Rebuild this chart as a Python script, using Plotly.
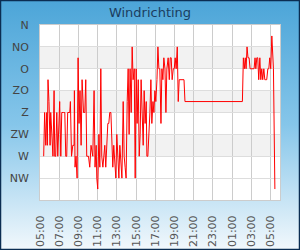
import base64
import pandas as pd
import plotly.graph_objects as go

# ---- data ----
start = "2024-01-01 05:00"
minutes_after_start = [
    23, 29, 36, 42, 46, 50, 56, 63, 67, 73, 81, 88, 92, 98, 105, 111, 117, 123, 130, 136,
    148, 155, 161, 167, 173, 186, 190, 197, 205, 213, 215, 219, 225, 232, 238, 244, 250, 257, 263, 272,
    280, 286, 292, 303, 311, 319, 330, 338, 344, 351, 355, 361, 368, 374, 380, 386, 393, 399, 405, 411,
    418, 424, 430, 436, 443, 449, 455, 461, 468, 474, 480, 486, 493, 499, 505, 512, 520, 526, 532, 538,
    545, 551, 557, 563, 570, 576, 582, 589, 595, 601, 607, 614, 620, 626, 632, 639, 645, 651, 657, 664,
    668, 674, 681, 687, 693, 699, 706, 712, 718, 724, 731, 737, 743, 749, 756, 762, 768, 774, 781, 787,
    793, 801, 808, 814, 820, 826, 833, 839, 845, 851, 858, 864, 870, 900, 906, 1265, 1271, 1277, 1283, 1288,
    1294, 1300, 1307, 1313, 1338, 1344, 1349, 1355, 1361, 1367, 1374, 1380, 1386, 1392, 1399, 1405, 1411, 1417, 1424, 1430,
    1436, 1442, 1449, 1455, 1459, 1468,
]
direction_deg = [
    270, 180, 247.5, 180, 247.5, 112.5, 157.5, 247.5, 180, 225, 270, 135, 270, 270, 180, 270, 180, 157.5, 270, 180,
    180, 180, 270, 270, 180, 180, 157.5, 270, 247.5, 247.5, 135, 292.5, 270, 315, 67.5, 202.5, 135, 247.5, 112.5, 180,
    180, 112.5, 270, 270, 292.5, 247.5, 270, 135, 292.5, 247.5, 315, 337.5, 225, 292.5, 90, 270, 292.5, 270, 247.5, 292.5,
    247.5, 202.5, 202.5, 180, 180, 225, 292.5, 247.5, 292.5, 315, 225, 270, 315, 247.5, 292.5, 315, 157.5, 270, 292.5, 315,
    157.5, 90, 225, 90, 180, 45, 112.5, 90, 315, 90, 202.5, 112.5, 270, 225, 112.5, 180, 247.5, 135, 202.5, 157.5,
    270, 270, 225, 180, 112.5, 202.5, 157.5, 180, 135, 157.5, 112.5, 45, 90, 90, 202.5, 90, 112.5, 67.5, 90, 180,
    90, 67.5, 112.5, 67.5, 67.5, 112.5, 90, 90, 67.5, 90, 45, 157.5, 112.5, 112.5, 157.5, 157.5, 67.5, 90, 67.5, 90,
    45, 67.5, 67.5, 90, 90, 67.5, 90, 67.5, 67.5, 112.5, 67.5, 112.5, 90, 112.5, 90, 112.5, 112.5, 112.5, 90, 90,
    67.5, 90, 22.5, 67.5, 90, 337.5,
]
tick_times = ["2024-01-01 05:00", "2024-01-01 07:00", "2024-01-01 09:00", "2024-01-01 11:00",
              "2024-01-01 13:00", "2024-01-01 15:00", "2024-01-01 17:00", "2024-01-01 19:00",
              "2024-01-01 21:00", "2024-01-01 23:00", "2024-01-02 01:00", "2024-01-02 03:00",
              "2024-01-02 05:00"]
y_tick_vals = [0, 45, 90, 135, 180, 225, 270, 315]
y_tick_text = ["N", "NO", "O", "ZO", "Z", "ZW", "W", "NW"]
band_ranges = [(45, 90), (135, 180), (225, 270)]
x_range = ["2024-01-01 05:00", "2024-01-02 06:00"]

times = pd.Timestamp(start) + pd.to_timedelta(minutes_after_start, unit="min")

W, H = 300, 250
L, R, T, B = 40, 20, 25, 50
pw, ph = W - L - R, H - T - B

svg = f'''<svg xmlns="http://www.w3.org/2000/svg" width="{W}" height="{H}" viewBox="0 0 {W} {H}" preserveAspectRatio="none">
<defs><linearGradient id="g" x1="0" y1="0" x2="0" y2="1">
<stop offset="0" stop-color="#4ca5d8"/>
<stop offset="0.5" stop-color="#86c6ea"/>
<stop offset="1" stop-color="#f2f8fc"/>
</linearGradient></defs>
<rect x="0" y="0" width="{W}" height="{H}" fill="url(#g)"/>
<rect x="0.5" y="0.5" width="{W-1}" height="{H-1}" fill="none" stroke="#0b2d52" stroke-width="1.5"/>
</svg>'''
src = "data:image/svg+xml;base64," + base64.b64encode(svg.encode()).decode()

fig = go.Figure()
fig.add_trace(go.Scatter(x=times, y=direction_deg, mode="lines",
                         line=dict(color="#ff0000", width=1), hoverinfo="skip"))

shapes = [dict(type="rect", xref="paper", yref="paper", x0=0, x1=1, y0=0, y1=1,
               fillcolor="#ffffff", line=dict(width=0), layer="below")]
for a, b in band_ranges:
    shapes.append(dict(type="rect", xref="paper", yref="y", x0=0, x1=1, y0=a, y1=b,
                       fillcolor="#f2f2f2", line=dict(width=0), layer="below"))

fig.update_layout(
    width=W, height=H,
    margin=dict(l=L, r=R, t=T, b=B, pad=0),
    paper_bgcolor="#8ccaea",
    plot_bgcolor="rgba(0,0,0,0)",
    showlegend=False,
    font=dict(family="DejaVu Sans", size=11, color="#444444"),
    title=dict(text="Windrichting", x=0.5, xanchor="center", y=1 - 12 / H, yanchor="middle",
               yref="container", font=dict(family="DejaVu Sans", size=13, color="#1b3d60")),
    images=[dict(source=src, xref="paper", yref="paper", x=-L / pw, y=1 + T / ph,
                 sizex=W / pw, sizey=H / ph, xanchor="left", yanchor="top",
                 sizing="stretch", layer="below")],
    shapes=shapes,
    xaxis=dict(type="date", range=x_range, tickvals=tick_times, tickformat="%H:%M",
               tickangle=-90, showgrid=True, gridcolor="#cccccc", gridwidth=1,
               showline=True, linecolor="#cccccc", mirror=True, zeroline=False,
               ticks="outside", ticklen=10, tickcolor="rgba(0,0,0,0)",
               tickfont=dict(size=11, color="#555555"), automargin=False, fixedrange=True),
    yaxis=dict(range=[360, 0], tickvals=y_tick_vals, ticktext=y_tick_text,
               showgrid=True, gridcolor="#dddddd", gridwidth=1,
               showline=True, linecolor="#cccccc", mirror=True, zeroline=False,
               ticks="outside", ticklen=8, tickcolor="rgba(0,0,0,0)",
               tickfont=dict(size=11, color="#444444"), automargin=False, fixedrange=True),
)

fig.write_html("out.html", config={"displayModeBar": False})
